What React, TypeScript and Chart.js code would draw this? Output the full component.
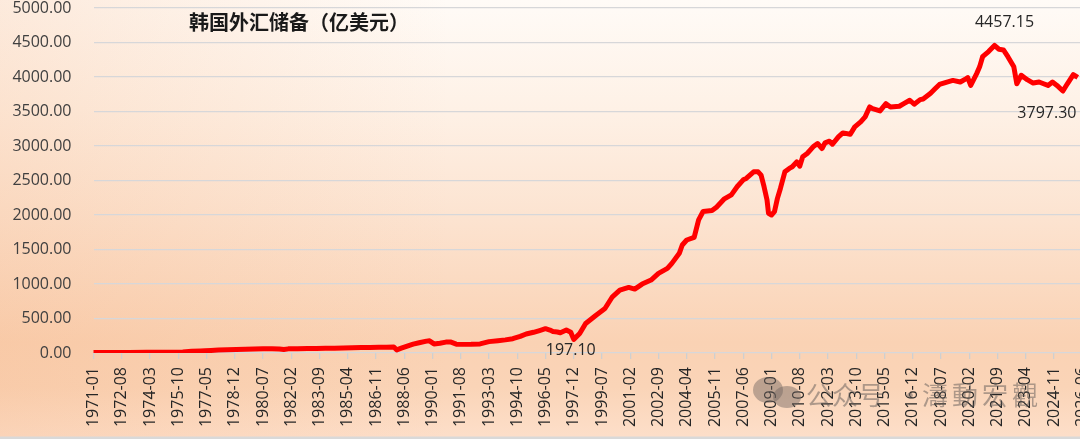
import React, { useEffect, useRef } from 'react';
import { Chart, registerables } from 'chart.js';

Chart.register(...registerables);

const TITLE = '韩国外汇储备（亿美元）';
const WATERMARK_A = '公众号';
const WATERMARK_DOT = '·';
const WATERMARK_B = '濤動宏觀';

const FIRST_YEAR = 1971;
const MONTH_COUNT = 668; // 1971-01 .. 2026-08
const LABEL_EVERY = 19;

const categories: string[] = [];
for (let i = 0; i < MONTH_COUNT; i++) {
  const y = FIRST_YEAR + Math.floor(i / 12);
  const m = (i % 12) + 1;
  categories.push(`${y}-${String(m).padStart(2, '0')}`);
}

const pointDates = [
  '1971-01', '1972-01', '1973-01', '1974-01', '1975-01', '1976-01', '1976-07', '1977-01', '1977-04', '1977-08',
  '1978-01', '1978-07', '1979-01', '1979-07', '1980-01', '1980-07', '1981-01', '1981-06', '1981-09', '1981-12',
  '1982-06', '1983-01', '1983-07', '1984-01', '1984-07', '1985-01', '1985-07', '1986-01', '1986-07', '1987-01',
  '1987-06', '1987-11', '1988-01', '1988-04', '1988-08', '1988-12', '1989-04', '1989-09', '1989-11', '1990-02',
  '1990-06', '1990-10', '1991-01', '1991-05', '1991-09', '1992-03', '1992-09', '1993-03', '1993-09', '1994-02',
  '1994-07', '1994-12', '1995-04', '1995-09', '1996-01', '1996-05', '1996-08', '1996-10', '1997-01', '1997-03',
  '1997-07', '1997-10', '1997-12', '1998-04', '1998-08', '1999-03', '1999-09', '2000-02', '2000-07', '2001-01',
  '2001-05', '2001-10', '2002-04', '2002-09', '2003-03', '2003-06', '2003-11', '2004-01', '2004-04', '2004-09',
  '2004-12', '2005-03', '2005-09', '2005-12', '2006-05', '2006-10', '2007-02', '2007-06', '2007-08', '2008-01',
  '2008-04', '2008-06', '2008-08', '2008-10', '2008-11', '2009-01', '2009-03', '2009-05', '2009-07', '2009-10',
  '2010-01', '2010-03', '2010-06', '2010-08', '2010-10', '2011-01', '2011-05', '2011-08', '2011-11', '2012-01',
  '2012-04', '2012-06', '2012-10', '2013-01', '2013-06', '2013-09', '2014-01', '2014-04', '2014-07', '2014-09',
  '2015-02', '2015-06', '2015-09', '2016-03', '2016-06', '2016-10', '2017-01', '2017-05', '2017-07', '2017-12',
  '2018-03', '2018-06', '2018-11', '2019-03', '2019-08', '2019-12', '2020-01', '2020-03', '2020-07', '2020-09',
  '2020-11', '2021-03', '2021-07', '2021-10', '2022-01', '2022-04', '2022-08', '2022-10', '2023-01', '2023-05',
  '2023-09', '2024-01', '2024-04', '2024-07', '2024-10', '2025-01', '2025-05', '2025-08', '2025-12', '2026-03',
];

const pointValues = [
  6, 6, 8, 10, 11, 16, 24, 30, 34, 38,
  43, 46, 50, 54, 58, 62, 60, 58, 50, 60,
  62, 64, 66, 68, 70, 72, 75, 78, 80, 82,
  85, 88, 45, 70, 100, 128, 148, 172, 176, 132,
  142, 158, 160, 128, 125, 127, 132, 165, 178, 190,
  207, 240, 275, 300, 325, 352, 332, 312, 305, 294,
  333, 300, 197.1, 282, 427, 548, 645, 815, 911, 950,
  926, 999, 1057, 1154, 1226, 1299, 1444, 1565, 1638, 1677,
  1929, 2050, 2064, 2113, 2229, 2292, 2413, 2510, 2530, 2626,
  2626, 2578, 2410, 2217, 2024, 2000, 2048, 2241, 2385, 2626,
  2675, 2699, 2771, 2708, 2843, 2891, 2988, 3036, 2964, 3046,
  3070, 3026, 3132, 3190, 3171, 3277, 3349, 3422, 3566, 3542,
  3508, 3614, 3566, 3576, 3614, 3663, 3605, 3672, 3682, 3765,
  3829, 3892, 3927, 3951, 3927, 3976, 3990, 3878, 4049, 4147,
  4294, 4368, 4457.15, 4402, 4392, 4294, 4147, 3902, 4025, 3961,
  3912, 3927, 3902, 3878, 3927, 3878, 3797.3, 3902, 4034, 3995,
];

const Y_MIN = 0;
const Y_MAX = 5000;
const Y_STEP = 500;

const annotatedDates = ['1997-12', '2021-07', '2025-05'];
const annotationOffsets = [
  { dx: -3, dy: 11 },
  { dx: 10, dy: -23 },
  { dx: -16, dy: 22 },
];

const FONT = '"Open Sans", "Noto Sans", sans-serif';

const backgroundPlugin = {
  id: 'bgPlugin',
  beforeDraw(chart: any) {
    const { ctx, width, height } = chart;
    ctx.save();
    const g = ctx.createLinearGradient(0, 0, 0, height);
    g.addColorStop(0, '#FFFBF7');
    g.addColorStop(0.25, '#FEF1E6');
    g.addColorStop(0.5, '#FCE3D0');
    g.addColorStop(0.78, '#FAD2B4');
    g.addColorStop(0.88, '#FAD4B7');
    g.addColorStop(1, '#FDDFCA');
    ctx.fillStyle = g;
    ctx.fillRect(0, 0, width, height);
    const h = ctx.createLinearGradient(0, 0, 450, 0);
    h.addColorStop(0, 'rgba(243,168,115,0.20)');
    h.addColorStop(1, 'rgba(243,168,115,0)');
    ctx.fillStyle = h;
    ctx.fillRect(0, 0, width, height);
    ctx.fillStyle = '#d9d9d9';
    ctx.fillRect(0, height - 2.5, width, 2.5);
    ctx.restore();
  },
};

const textPlugin = {
  id: 'textPlugin',
  afterDatasetsDraw(chart: any) {
    const { ctx } = chart;
    const meta = chart.getDatasetMeta(0);
    ctx.save();
    ctx.font = `bold 20px "Noto Sans CJK SC", sans-serif`;
    ctx.fillStyle = '#1a1a1a';
    ctx.textAlign = 'center';
    ctx.textBaseline = 'middle';
    ctx.fillText(TITLE, 299, 22);

    ctx.font = `16px ${FONT}`;
    ctx.fillStyle = '#262626';
    annotatedDates.forEach((d, k) => {
      const i = pointDates.indexOf(d);
      const el = meta.data[i];
      if (!el) return;
      const off = annotationOffsets[k];
      ctx.fillText(pointValues[i].toFixed(2), el.x + off.dx, el.y + off.dy);
    });
    ctx.restore();
  },
};

export default function App() {
  const canvasRef = useRef<HTMLCanvasElement | null>(null);

  useEffect(() => {
    document.body.style.margin = '0';
    document.body.style.overflow = 'hidden';
    const canvas = canvasRef.current;
    if (!canvas) return;
    const chart = new Chart(canvas, {
      type: 'line',
      data: {
        labels: categories,
        datasets: [
          {
            data: pointDates.map((d, i) => ({ x: d, y: pointValues[i] })),
            borderColor: '#FF0000',
            backgroundColor: '#FF0000',
            borderWidth: 5,
            pointRadius: 0,
            pointHoverRadius: 0,
            tension: 0,
            borderJoinStyle: 'round',
            borderCapStyle: 'butt',
            fill: false,
          } as any,
        ],
      },
      options: {
        responsive: false,
        animation: false,
        events: [],
        layout: { padding: { top: 8, right: 14.8, bottom: 0, left: 0 } },
        plugins: {
          legend: { display: false },
          tooltip: { enabled: false },
          title: { display: false },
        },
        scales: {
          x: {
            type: 'category',
            offset: false,
            grid: {
              display: true,
              drawOnChartArea: false,
              drawTicks: true,
              tickLength: 6,
              lineWidth: 1.3,
              tickColor: (c: any) => (c.index % LABEL_EVERY === 0 ? '#cfcfcf' : 'rgba(0,0,0,0)'),
            },
            border: { display: false },
            ticks: {
              autoSkip: false,
              maxRotation: 90,
              minRotation: 90,
              padding: 8,
              color: '#262626',
              font: { family: FONT, size: 16 },
              callback: (_v: any, index: number) => (index % LABEL_EVERY === 0 ? categories[index] : ''),
            },
            afterFit: (scale: any) => {
              scale.height = 86;
              scale.paddingLeft = 0;
              scale.paddingRight = 0;
            },
          },
          y: {
            min: Y_MIN,
            max: Y_MAX,
            grid: {
              color: '#d7d7d9',
              lineWidth: 1.3,
              drawTicks: false,
            },
            border: { display: false },
            ticks: {
              stepSize: Y_STEP,
              padding: 22,
              color: '#404040',
              font: { family: FONT, size: 16 },
              callback: (v: any) => Number(v).toFixed(2),
            },
            afterFit: (scale: any) => {
              scale.width = 93.5;
              scale.paddingTop = 0;
              scale.paddingBottom = 0;
            },
          },
        },
      },
      plugins: [backgroundPlugin, textPlugin],
    });
    return () => chart.destroy();
  }, []);

  const wm: React.CSSProperties = {
    position: 'absolute',
    fontFamily: '"Noto Sans CJK SC", sans-serif',
    fontSize: 26,
    lineHeight: '26px',
    color: 'rgba(95,90,88,0.5)',
    pointerEvents: 'none',
    whiteSpace: 'nowrap',
  };

  return (
    <div style={{ position: 'relative', width: 1080, height: 439, overflow: 'hidden' }}>
      <canvas ref={canvasRef} width={1100} height={439} style={{ width: 1100, height: 439, display: 'block' }} />
      <div style={{ position: 'absolute', left: 753, top: 377, width: 30, height: 26, borderRadius: '50%', background: 'rgba(110,100,95,0.45)' }} />
      <div style={{ position: 'absolute', left: 773, top: 386, width: 28, height: 22, borderRadius: '50%', background: 'rgba(110,100,95,0.45)' }} />
      <div style={{ ...wm, left: 806, top: 381 }}>{WATERMARK_A}</div>
      <div style={{ ...wm, left: 897, top: 381 }}>{WATERMARK_DOT}</div>
      <div style={{ ...wm, left: 922, top: 381, letterSpacing: 4 }}>{WATERMARK_B}</div>
    </div>
  );
}
